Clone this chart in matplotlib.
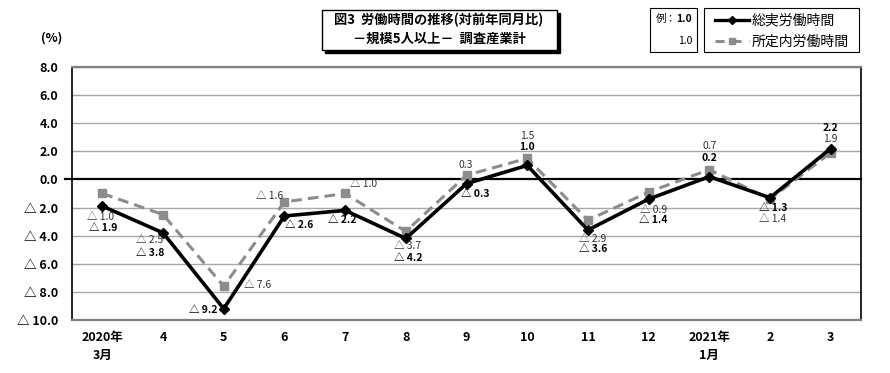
import matplotlib
matplotlib.use("Agg")
import matplotlib.pyplot as plt
from matplotlib.patches import Rectangle
from matplotlib.lines import Line2D

plt.rcParams['font.family'] = ['Noto Sans CJK JP', 'DejaVu Sans']

# ===== data =====
months = ["2020年\n3月", "4", "5", "6", "7", "8", "9", "10", "11", "12",
          "2021年\n1月", "2", "3"]
total_hours = [-1.9, -3.8, -9.2, -2.6, -2.2, -4.2, -0.3, 1.0, -3.6, -1.4, 0.2, -1.3, 2.2]
sched_hours = [-1.0, -2.5, -7.6, -1.6, -1.0, -3.7, 0.3, 1.5, -2.9, -0.9, 0.7, -1.4, 1.9]
yticks = [8, 6, 4, 2, 0, -2, -4, -6, -8, -10]

# label offsets in pixels (dx, dy; dy positive = up)
total_off = [(1, -22), (-13, -20), (-21, -1), (15, -9), (-3, -10), (2, -20), (9, -10),
             (0, 18), (5, -19), (5, -21), (0, 19), (3, -10), (0, 21)]
sched_off = [(-2, -24), (-13, -25), (34, 1), (-15, 6), (18, 9), (2, -15), (-1, 10),
             (0, 22), (5, -19), (5, -18), (0, 24), (3, -20), (0, 14)]


def fmt(v):
    if v < 0:
        return "△ %.1f" % abs(v)
    return "%.1f" % v


fig = plt.figure(figsize=(8.9, 3.73), dpi=100)
ax = fig.add_axes([72 / 890, 1 - 320 / 373, 789 / 890, 253 / 373])

x = list(range(len(months)))
ax.set_xlim(-0.5, len(months) - 0.5)
ax.set_ylim(-10, 8)

for y in yticks:
    if y == 0:
        continue
    ax.axhline(y, color="#a8a8a8", lw=1.0, zorder=1)
ax.plot([-0.62, len(months) - 0.5], [0, 0], color="black", lw=1.6, zorder=2, clip_on=False)

ax.plot(x, sched_hours, color="#8c8c8c", lw=2.2, ls=(0, (3.5, 2)), marker="s",
        markersize=6, zorder=3)
ax.plot(x, total_hours, color="black", lw=2.6, marker="D", markersize=5, zorder=4)

for i in x:
    ax.annotate(fmt(sched_hours[i]), (i, sched_hours[i]), xytext=sched_off[i],
                textcoords="offset pixels", ha="center", va="center",
                fontsize=7.5, color="#333333", zorder=5)
    ax.annotate(fmt(total_hours[i]), (i, total_hours[i]), xytext=total_off[i],
                textcoords="offset pixels", ha="center", va="center",
                fontsize=7.5, fontweight="bold", color="black", zorder=5)

ax.set_yticks(yticks)
ax.set_yticklabels([fmt(v) for v in yticks], fontsize=9, fontweight="bold")
ax.set_xticks(x)
ax.set_xticklabels(months, fontsize=9, fontweight="bold", linespacing=1.5, va="top")
ax.tick_params(length=0, pad=8)
ax.tick_params(axis="y", pad=10)

for s in ["left", "right"]:
    ax.spines[s].set_color("black")
    ax.spines[s].set_linewidth(1.2)
ax.spines["top"].set_color("#808080")
ax.spines["top"].set_linewidth(1.6)
ax.spines["bottom"].set_color("#808080")
ax.spines["bottom"].set_linewidth(1.6)

fig.text(52 / 890, 1 - 38 / 373, "(%)", fontsize=9, fontweight="bold", ha="center", va="center")

# ===== title box =====
def px(xp, yp):
    return xp / 890, 1 - yp / 373

sx, sy = px(325, 53)
fig.patches.append(Rectangle((sx, sy), 235 / 890, 40 / 373, transform=fig.transFigure,
                             facecolor="black", edgecolor="black", zorder=1))
bx, by = px(322, 50)
fig.patches.append(Rectangle((bx, by), 235 / 890, 40 / 373, transform=fig.transFigure,
                             facecolor="white", edgecolor="black", lw=1, zorder=2))
fig.text(*px(439, 20), "図3  労働時間の推移(対前年同月比)", fontsize=9.5, fontweight="bold",
         ha="center", va="center", zorder=3)
fig.text(*px(439, 39), "－規模5人以上－  調査産業計", fontsize=9.5, fontweight="bold",
         ha="center", va="center", zorder=3)

# ===== example box =====
ex, ey = px(650, 52)
fig.patches.append(Rectangle((ex, ey), 47 / 890, 44 / 373, transform=fig.transFigure,
                             facecolor="white", edgecolor="black", lw=0.8))
fig.text(*px(656, 19), "例：", fontsize=7.5, ha="left", va="center")
fig.text(*px(692, 19), "1.0", fontsize=7.5, fontweight="bold", ha="right", va="center")
fig.text(*px(692, 41), "1.0", fontsize=7.5, ha="right", va="center")

# ===== legend box =====
lx, ly = px(704, 52)
fig.patches.append(Rectangle((lx, ly), 155 / 890, 44 / 373, transform=fig.transFigure,
                             facecolor="white", edgecolor="black", lw=0.8))
x0, y0 = px(715, 20)
x1, _ = px(749, 20)
fig.add_artist(Line2D([x0, x1], [y0, y0], color="black", lw=2.4, transform=fig.transFigure))
fig.add_artist(Line2D([(x0 + x1) / 2], [y0], color="black", marker="D", markersize=4,
                      transform=fig.transFigure))
y2 = px(0, 41)[1]
fig.add_artist(Line2D([x0, x1], [y2, y2], color="#8c8c8c", lw=2.2, ls=(0, (3, 2.5)),
                      transform=fig.transFigure))
fig.add_artist(Line2D([(x0 + x1) / 2], [y2], color="#8c8c8c", marker="s", markersize=5,
                      transform=fig.transFigure))
fig.text(*px(752, 20), "総実労働時間", fontsize=10, ha="left", va="center")
fig.text(*px(752, 42), "所定内労働時間", fontsize=10, ha="left", va="center")

fig.savefig("out.png", dpi=100)
